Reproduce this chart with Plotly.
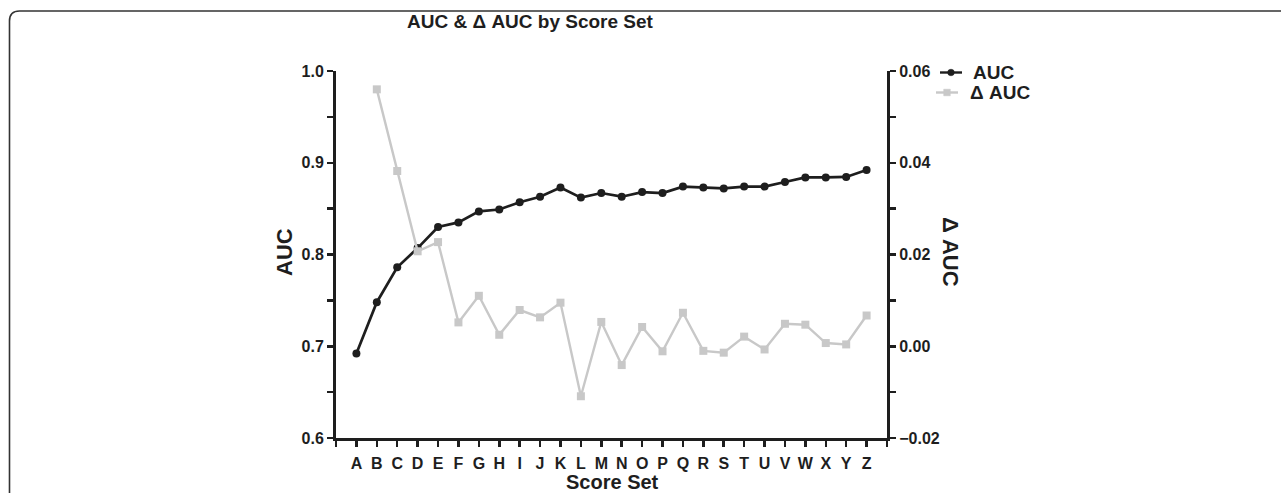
import plotly.graph_objects as go

score_sets = list("ABCDEFGHIJKLMNOPQRSTUVWXYZ")
auc = [0.692, 0.748, 0.786, 0.807, 0.830, 0.835, 0.847, 0.849, 0.857, 0.863, 0.873,
       0.862, 0.867, 0.863, 0.868, 0.867, 0.874, 0.873, 0.872, 0.874, 0.874,
       0.879, 0.884, 0.884, 0.8845, 0.892]
delta_auc = [None, 0.0560, 0.0382, 0.0207, 0.0227, 0.0052, 0.0110, 0.0025, 0.0079, 0.0063, 0.0095,
             -0.0109, 0.0053, -0.0041, 0.0042, -0.0011, 0.0073, -0.0010, -0.0014, 0.0021, -0.0007,
             0.0049, 0.0047, 0.0007, 0.0004, 0.0067]
series_names = ["AUC", "\u0394 AUC"]

W, H = 1281, 493
ML, MR, MT, MB = 336, 394, 71, 55
PW, PH = W - ML - MR, H - MT - MB

def px(x):
    return (x - ML) / PW

def py(y):
    return (H - MB - y) / PH

FONT = "Liberation Sans, Arial, Helvetica, sans-serif"
INK = "#1e1e1e"
GRAY = "#c8c8c8"

xpos = list(range(len(score_sets)))

fig = go.Figure()
fig.add_trace(go.Scatter(
    x=xpos, y=delta_auc, name=series_names[1], yaxis="y2",
    mode="lines+markers", line=dict(color=GRAY, width=2.4),
    marker=dict(symbol="square", size=8, color=GRAY),
    showlegend=False, connectgaps=False, hoverinfo="skip"))
fig.add_trace(go.Scatter(
    x=xpos, y=auc, name=series_names[0], yaxis="y",
    mode="lines+markers", line=dict(color=INK, width=2.7),
    marker=dict(symbol="circle", size=8, color=INK),
    showlegend=False, hoverinfo="skip"))

axis_common = dict(showgrid=False, zeroline=False, showline=True, linecolor=INK,
                   linewidth=3, ticks="outside", ticklen=6, tickwidth=2.5, tickcolor=INK,
                   tickfont=dict(family=FONT, size=16, color=INK, weight="bold"))

fig.update_layout(
    width=W, height=H,
    margin=dict(l=ML, r=MR, t=MT, b=MB, autoexpand=False),
    paper_bgcolor="white", plot_bgcolor="white",
    font=dict(family=FONT, color=INK, weight="bold"),
    xaxis=dict(range=[-1, 26], tickmode="array", tickvals=xpos, ticktext=score_sets,
               ticklabelstandoff=3,
               minor=dict(tick0=0, dtick=1, ticks="outside", ticklen=6, tickwidth=2.5, tickcolor=INK),
               **axis_common),
    yaxis=dict(range=[0.6, 1.0], dtick=0.1, tickformat=".1f",
               minor=dict(dtick=0.05, ticks="outside", ticklen=6, tickwidth=2.5, tickcolor=INK),
               **axis_common),
    yaxis2=dict(range=[-0.02, 0.06], dtick=0.02, tickformat=".2f", overlaying="y", side="right",
                anchor="x",
                minor=dict(dtick=0.01, ticks="outside", ticklen=6, tickwidth=2.5, tickcolor=INK),
                **axis_common),
    showlegend=False,
)

annotations = [
    dict(text="AUC & \u0394 AUC by Score Set", x=px(530), y=py(22), size=19, angle=0),
    dict(text="AUC", x=px(285), y=py(252), size=22, angle=-90),
    dict(text="\u0394 AUC", x=px(950), y=py(252), size=22, angle=90),
    dict(text="Score Set", x=px(612), y=py(482), size=20, angle=0),
]
for a in annotations:
    fig.add_annotation(text=a["text"], x=a["x"], y=a["y"], xref="paper", yref="paper",
                       xanchor="center", yanchor="middle", showarrow=False, textangle=a["angle"],
                       font=dict(family=FONT, size=a["size"], color=INK, weight="bold"))

# manual legend (key glyphs + labels)
leg_rows = [
    dict(name=series_names[0], y=72.5, x0=940, x1=962, color=INK, sym="circle", tx=971),
    dict(name=series_names[1], y=92.5, x0=936, x1=958, color=GRAY, sym="square", tx=968),
]
for row in leg_rows:
    yy = py(row["y"])
    fig.add_shape(type="line", xref="paper", yref="paper", x0=px(row["x0"]), x1=px(row["x1"]),
                  y0=yy, y1=yy, line=dict(color=row["color"], width=2.4))
    cx = (row["x0"] + row["x1"]) / 2
    hs = 3.3
    fig.add_shape(type="circle" if row["sym"] == "circle" else "rect", xref="paper", yref="paper",
                  x0=px(cx - hs), x1=px(cx + hs), y0=py(row["y"] + hs), y1=py(row["y"] - hs),
                  fillcolor=row["color"], line=dict(color=row["color"], width=0.5))
    fig.add_annotation(text=row["name"], x=px(row["tx"]), y=yy, xref="paper", yref="paper",
                       xanchor="left", yanchor="middle", showarrow=False,
                       font=dict(family=FONT, size=19, color=INK, weight="bold"))

# rounded frame around the figure (top-left corner visible)
x0, xr = px(9.5), px(W + 10)
yt, yb = py(11), py(H + 10)
r = 10
dx, dy = r / PW, r / PH
path = f"M{x0},{yb} L{x0},{yt - dy} Q{x0},{yt} {x0 + dx},{yt} L{xr},{yt}"
fig.add_shape(type="path", path=path, xref="paper", yref="paper",
              line=dict(color="#333333", width=1.6), layer="above")

fig.write_html("out.html",
               config={"displayModeBar": False, "staticPlot": True},
               post_script="document.body.style.margin='0';document.body.style.overflow='hidden';")
